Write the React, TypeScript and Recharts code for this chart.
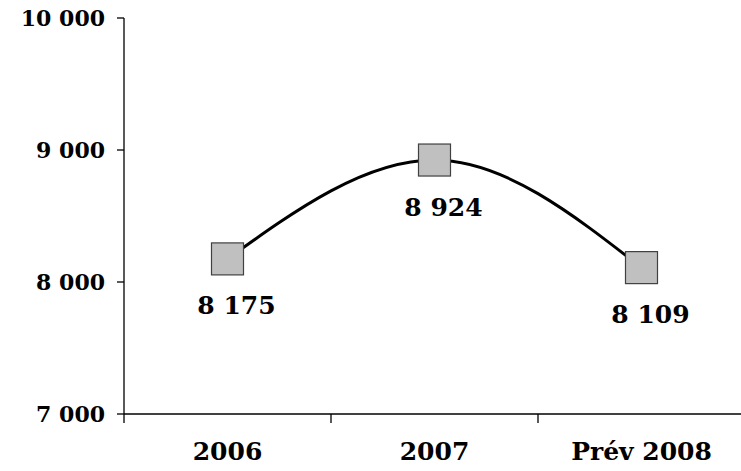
import React from 'react'
import { LineChart, Line, XAxis, YAxis, LabelList } from 'recharts'

const categories = ['2006', '2007', 'Prév 2008']
const values = [8175, 8924, 8109]
const yTicks = [7000, 8000, 9000, 10000]
const xBoundaries = [0, 1, 2, 3]

const data = categories.map((name, i) => ({ name, pos: i + 0.5, value: values[i] }))

const FONT = '"DejaVu Serif", Georgia, serif'

const fmt = (v: number) => `${Math.floor(v / 1000)} ${String(v % 1000).padStart(3, '0')}`

const SquareDot = (props: any) => {
  const { cx, cy } = props
  if (cx == null || cy == null) return null
  return (
    <rect x={cx - 16} y={cy - 16} width={32} height={32} fill="#c0c0c0" stroke="#404040" strokeWidth={1.2} />
  )
}

const ValueLabel = (props: any) => {
  const { x, y, value } = props
  return (
    <text x={x + 9} y={y + 47} textAnchor="middle" dominantBaseline="central"
      fontFamily={FONT} fontWeight="bold" fontSize={25} fill="#000">
      {fmt(value)}
    </text>
  )
}

export default function App() {
  return (
    <div style={{ position: 'absolute', left: 0, top: 0, width: 741, height: 471, overflow: 'hidden', background: '#fff' }}>
      <LineChart width={745} height={471} data={data} margin={{ top: 18, right: 0, bottom: 0, left: 0 }}>
        <XAxis
          dataKey="pos"
          type="number"
          domain={[0, 3]}
          ticks={xBoundaries}
          tickFormatter={() => ''}
          stroke="#000"
          strokeWidth={1.3}
          tickSize={9}
          height={57}
          interval={0}
        />
        <YAxis
          domain={[7000, 10000]}
          ticks={yTicks}
          tickFormatter={fmt}
          stroke="#000"
          strokeWidth={1.3}
          tickSize={7}
          tickMargin={12}
          width={124}
          tick={{ fontFamily: FONT, fontWeight: 'bold', fontSize: 22, fill: '#000' }}
          interval={0}
        />
        <Line
          type="monotone"
          dataKey="value"
          stroke="#000"
          strokeWidth={3}
          dot={<SquareDot />}
          activeDot={false}
          isAnimationActive={false}
        >
          <LabelList dataKey="value" content={<ValueLabel />} />
        </Line>
      </LineChart>
      {categories.map((c, i) => (
        <div key={c} style={{
          position: 'absolute', top: 437, left: 124 + 207 * i, width: 207, textAlign: 'center',
          fontFamily: FONT, fontWeight: 'bold', fontSize: 25, color: '#000', lineHeight: '30px'
        }}>{c}</div>
      ))}
    </div>
  )
}
